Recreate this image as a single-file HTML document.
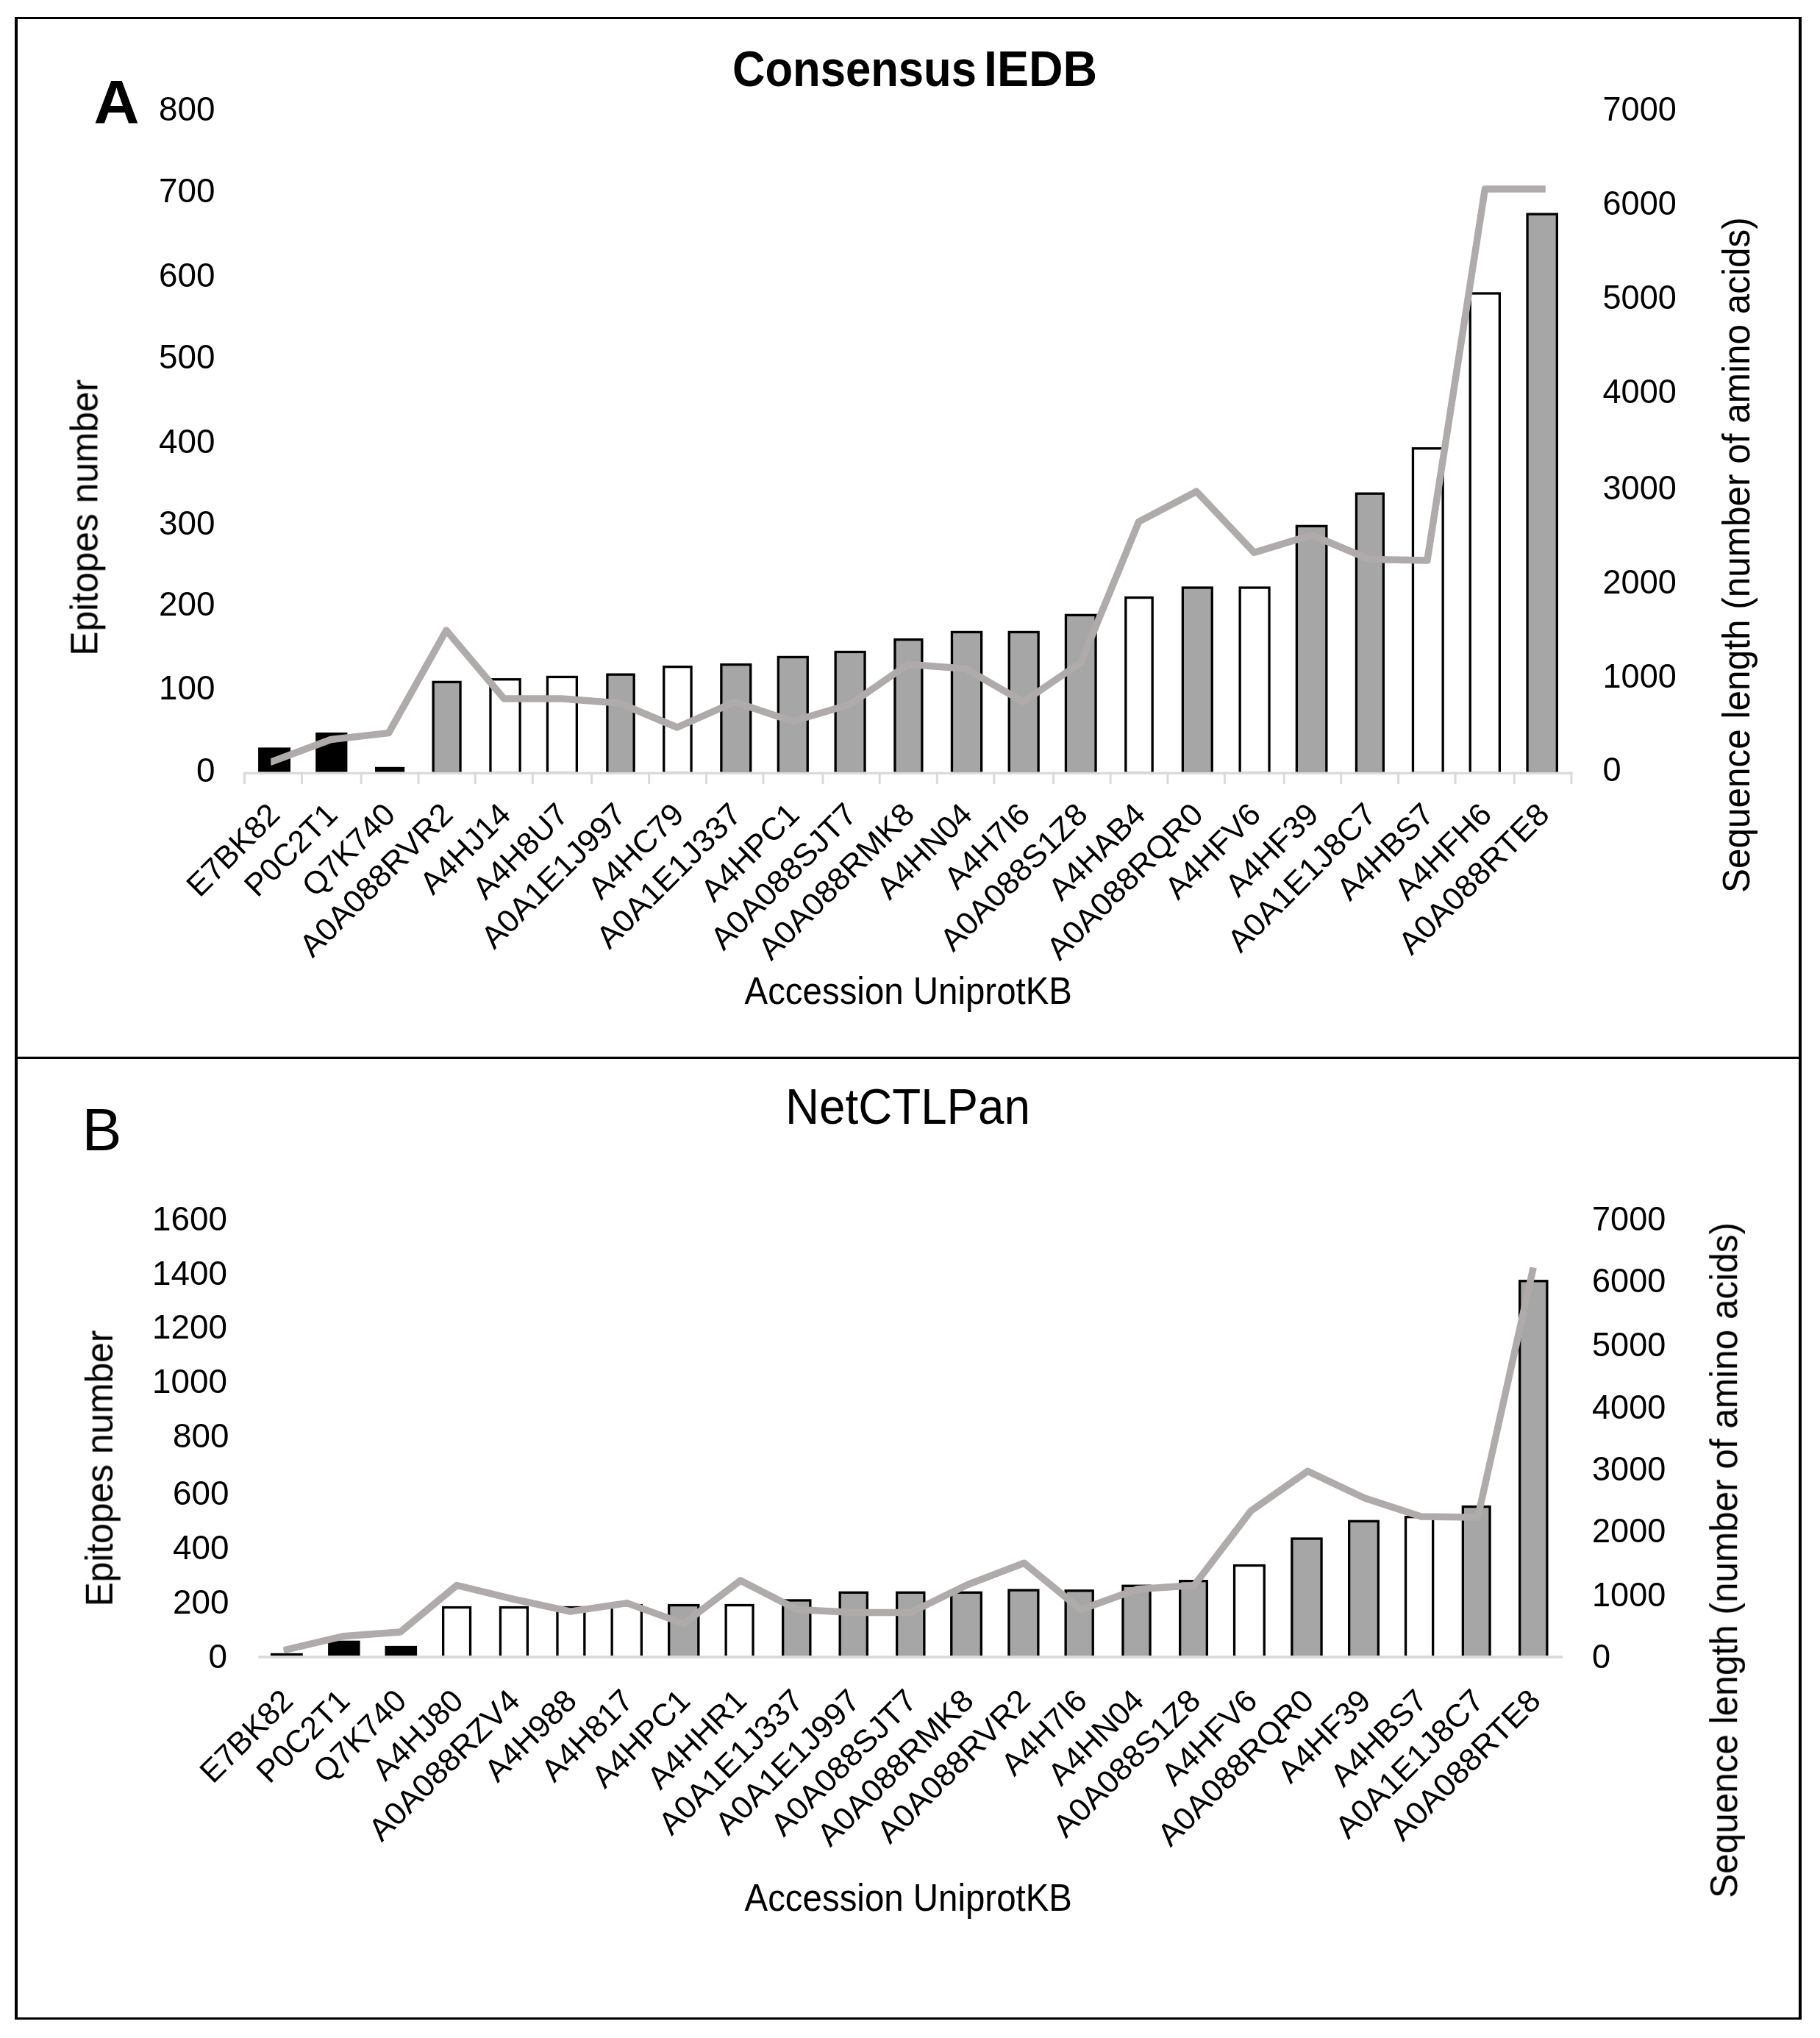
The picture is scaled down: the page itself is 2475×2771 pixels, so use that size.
<!DOCTYPE html>
<html lang="en"><head><meta charset="utf-8"><title>Epitope prediction charts</title>
<style>
html,body{margin:0;padding:0;background:#fff}
body{width:2475px;height:2771px;overflow:hidden}
svg{display:block}
text{font-family:"Liberation Sans",sans-serif;fill:#000}
</style></head><body>
<svg width="2475" height="2771" viewBox="0 0 2475 2771">
<defs><filter id="soft" filterUnits="userSpaceOnUse" x="0" y="0" width="2475" height="2771"><feGaussianBlur stdDeviation="0.7"/></filter></defs>
<rect width="2475" height="2771" fill="#fff"/>
<rect x="20.0" y="23.0" width="2430.0" height="3.0" fill="#000" />
<rect x="20.0" y="2743.0" width="2430.0" height="3.0" fill="#000" />
<rect x="20.0" y="23.0" width="4.0" height="2723.0" fill="#000" />
<rect x="2446.0" y="23.0" width="4.0" height="2723.0" fill="#000" />
<rect x="20.0" y="1436.7" width="2430.0" height="3.3" fill="#000" />
<g id="chartA" filter="url(#soft)">
<rect x="351.1" y="1016.4" width="43.9" height="33.3" fill="#000" />
<rect x="429.2" y="996.0" width="43.2" height="53.7" fill="#000" />
<rect x="510.0" y="1042.8" width="40.2" height="6.9" fill="#000" />
<rect x="587.5" y="925.7" width="40.2" height="124.0" fill="#000" />
<rect x="590.8" y="929.0" width="33.6" height="120.7" fill="#A6A6A6" />
<rect x="665.3" y="922.1" width="43.5" height="127.6" fill="#000" />
<rect x="668.6" y="925.4" width="36.9" height="124.3" fill="#fff" />
<rect x="742.8" y="918.8" width="43.2" height="130.9" fill="#000" />
<rect x="746.1" y="922.1" width="36.6" height="127.6" fill="#fff" />
<rect x="824.2" y="915.5" width="39.6" height="134.2" fill="#000" />
<rect x="827.5" y="918.8" width="33.0" height="130.9" fill="#A6A6A6" />
<rect x="901.1" y="905.0" width="40.6" height="144.7" fill="#000" />
<rect x="904.4" y="908.3" width="34.0" height="141.4" fill="#fff" />
<rect x="979.2" y="902.0" width="43.2" height="147.7" fill="#000" />
<rect x="982.5" y="905.3" width="36.6" height="144.4" fill="#A6A6A6" />
<rect x="1056.7" y="891.8" width="43.2" height="157.9" fill="#000" />
<rect x="1060.0" y="895.1" width="36.6" height="154.6" fill="#A6A6A6" />
<rect x="1134.5" y="884.8" width="43.2" height="164.9" fill="#000" />
<rect x="1137.8" y="888.1" width="36.6" height="161.6" fill="#A6A6A6" />
<rect x="1215.3" y="868.0" width="40.2" height="181.7" fill="#000" />
<rect x="1218.6" y="871.3" width="33.6" height="178.4" fill="#A6A6A6" />
<rect x="1292.8" y="857.8" width="43.5" height="191.9" fill="#000" />
<rect x="1296.1" y="861.1" width="36.9" height="188.6" fill="#A6A6A6" />
<rect x="1370.6" y="857.8" width="43.2" height="191.9" fill="#000" />
<rect x="1373.9" y="861.1" width="36.6" height="188.6" fill="#A6A6A6" />
<rect x="1447.8" y="834.7" width="43.9" height="215.0" fill="#000" />
<rect x="1451.1" y="838.0" width="37.3" height="211.7" fill="#A6A6A6" />
<rect x="1529.2" y="810.9" width="39.6" height="238.8" fill="#000" />
<rect x="1532.5" y="814.2" width="33.0" height="235.5" fill="#fff" />
<rect x="1606.7" y="797.4" width="43.2" height="252.3" fill="#000" />
<rect x="1610.0" y="800.7" width="36.6" height="249.0" fill="#A6A6A6" />
<rect x="1684.5" y="797.4" width="43.2" height="252.3" fill="#000" />
<rect x="1687.8" y="800.7" width="36.6" height="249.0" fill="#fff" />
<rect x="1761.7" y="713.7" width="43.8" height="336.0" fill="#000" />
<rect x="1765.0" y="717.0" width="37.2" height="332.7" fill="#A6A6A6" />
<rect x="1842.8" y="669.5" width="40.2" height="380.2" fill="#000" />
<rect x="1846.1" y="672.8" width="33.6" height="376.9" fill="#A6A6A6" />
<rect x="1919.8" y="608.1" width="44.0" height="441.6" fill="#000" />
<rect x="1923.1" y="611.4" width="37.4" height="438.3" fill="#fff" />
<rect x="1997.6" y="397.3" width="43.4" height="652.4" fill="#000" />
<rect x="2000.9" y="400.6" width="36.8" height="649.1" fill="#fff" />
<rect x="2075.4" y="289.5" width="43.6" height="760.2" fill="#000" />
<rect x="2078.7" y="292.8" width="37.0" height="756.9" fill="#A6A6A6" />
<rect x="331.5" y="1049.7" width="1807.0" height="3.2" fill="#D9D9D9" />
<rect x="331.0" y="1049.7" width="3.0" height="16.3" fill="#D9D9D9" />
<rect x="409.0" y="1049.7" width="3.0" height="16.3" fill="#D9D9D9" />
<rect x="489.7" y="1049.7" width="3.0" height="16.3" fill="#D9D9D9" />
<rect x="567.5" y="1049.7" width="3.0" height="16.3" fill="#D9D9D9" />
<rect x="644.7" y="1049.7" width="3.0" height="16.3" fill="#D9D9D9" />
<rect x="722.8" y="1049.7" width="3.0" height="16.3" fill="#D9D9D9" />
<rect x="803.0" y="1049.7" width="3.0" height="16.3" fill="#D9D9D9" />
<rect x="881.1" y="1049.7" width="3.0" height="16.3" fill="#D9D9D9" />
<rect x="959.0" y="1049.7" width="3.0" height="16.3" fill="#D9D9D9" />
<rect x="1036.4" y="1049.7" width="3.0" height="16.3" fill="#D9D9D9" />
<rect x="1117.5" y="1049.7" width="3.0" height="16.3" fill="#D9D9D9" />
<rect x="1194.7" y="1049.7" width="3.0" height="16.3" fill="#D9D9D9" />
<rect x="1272.8" y="1049.7" width="3.0" height="16.3" fill="#D9D9D9" />
<rect x="1350.3" y="1049.7" width="3.0" height="16.3" fill="#D9D9D9" />
<rect x="1431.1" y="1049.7" width="3.0" height="16.3" fill="#D9D9D9" />
<rect x="1508.6" y="1049.7" width="3.0" height="16.3" fill="#D9D9D9" />
<rect x="1586.4" y="1049.7" width="3.0" height="16.3" fill="#D9D9D9" />
<rect x="1663.9" y="1049.7" width="3.0" height="16.3" fill="#D9D9D9" />
<rect x="1744.7" y="1049.7" width="3.0" height="16.3" fill="#D9D9D9" />
<rect x="1822.2" y="1049.7" width="3.0" height="16.3" fill="#D9D9D9" />
<rect x="1900.1" y="1049.7" width="3.0" height="16.3" fill="#D9D9D9" />
<rect x="1977.5" y="1049.7" width="3.0" height="16.3" fill="#D9D9D9" />
<rect x="2057.8" y="1049.7" width="3.0" height="16.3" fill="#D9D9D9" />
<rect x="2135.4" y="1049.7" width="3.0" height="16.3" fill="#D9D9D9" />
<clipPath id="clipA"><rect x="368.2" y="200" width="1733.6" height="900"/></clipPath>
<polyline clip-path="url(#clipA)" points="371.5,1035.0 450.0,1005.5 528.5,996.6 606.9,857.0 685.4,950.0 763.9,950.0 842.4,956.0 920.8,989.0 999.3,954.4 1077.8,980.8 1156.2,957.7 1234.7,903.3 1313.2,909.2 1391.6,954.4 1470.1,900.6 1548.6,709.4 1627.1,668.2 1705.5,751.2 1784.0,727.5 1862.5,760.5 1940.9,762.1 2019.4,257.0 2097.9,257.0" fill="none" stroke="#AFABAB" stroke-width="9.5" stroke-linejoin="round" stroke-linecap="square"/>
<text x="292.5" y="163.7" font-size="47" text-anchor="end" textLength="76.4" lengthAdjust="spacingAndGlyphs" >800</text>
<text x="292.5" y="274.7" font-size="47" text-anchor="end" textLength="76.4" lengthAdjust="spacingAndGlyphs" >700</text>
<text x="292.5" y="389.5" font-size="47" text-anchor="end" textLength="76.4" lengthAdjust="spacingAndGlyphs" >600</text>
<text x="292.5" y="500.5" font-size="47" text-anchor="end" textLength="76.4" lengthAdjust="spacingAndGlyphs" >500</text>
<text x="292.5" y="615.7" font-size="47" text-anchor="end" textLength="76.4" lengthAdjust="spacingAndGlyphs" >400</text>
<text x="292.5" y="726.5" font-size="47" text-anchor="end" textLength="76.4" lengthAdjust="spacingAndGlyphs" >300</text>
<text x="292.5" y="837.2" font-size="47" text-anchor="end" textLength="76.4" lengthAdjust="spacingAndGlyphs" >200</text>
<text x="292.5" y="951.3" font-size="47" text-anchor="end" textLength="76.4" lengthAdjust="spacingAndGlyphs" >100</text>
<text x="292.5" y="1062.9" font-size="47" text-anchor="end" textLength="25.5" lengthAdjust="spacingAndGlyphs" >0</text>
<text x="2179.5" y="163.9" font-size="47" text-anchor="start" textLength="100.3" lengthAdjust="spacingAndGlyphs" >7000</text>
<text x="2179.5" y="292.1" font-size="47" text-anchor="start" textLength="100.3" lengthAdjust="spacingAndGlyphs" >6000</text>
<text x="2179.5" y="420.4" font-size="47" text-anchor="start" textLength="100.3" lengthAdjust="spacingAndGlyphs" >5000</text>
<text x="2179.5" y="548.2" font-size="47" text-anchor="start" textLength="100.3" lengthAdjust="spacingAndGlyphs" >4000</text>
<text x="2179.5" y="678.5" font-size="47" text-anchor="start" textLength="100.3" lengthAdjust="spacingAndGlyphs" >3000</text>
<text x="2179.5" y="806.7" font-size="47" text-anchor="start" textLength="100.3" lengthAdjust="spacingAndGlyphs" >2000</text>
<text x="2179.5" y="934.8" font-size="47" text-anchor="start" textLength="100.3" lengthAdjust="spacingAndGlyphs" >1000</text>
<text x="2179.5" y="1062.1" font-size="47" text-anchor="start" textLength="25.1" lengthAdjust="spacingAndGlyphs" >0</text>
<text x="383.0" y="1110.0" font-size="43" text-anchor="end" transform="rotate(-45 383.0 1110.0)" textLength="157.8" lengthAdjust="spacingAndGlyphs" >E7BK82</text>
<text x="461.5" y="1110.0" font-size="43" text-anchor="end" transform="rotate(-45 461.5 1110.0)" textLength="157.7" lengthAdjust="spacingAndGlyphs" >P0C2T1</text>
<text x="540.0" y="1110.0" font-size="43" text-anchor="end" transform="rotate(-45 540.0 1110.0)" textLength="157.8" lengthAdjust="spacingAndGlyphs" >Q7K740</text>
<text x="618.4" y="1110.0" font-size="43" text-anchor="end" transform="rotate(-45 618.4 1110.0)" textLength="273.6" lengthAdjust="spacingAndGlyphs" >A0A088RVR2</text>
<text x="696.9" y="1110.0" font-size="43" text-anchor="end" transform="rotate(-45 696.9 1110.0)" textLength="153.0" lengthAdjust="spacingAndGlyphs" >A4HJ14</text>
<text x="775.4" y="1110.0" font-size="43" text-anchor="end" transform="rotate(-45 775.4 1110.0)" textLength="162.5" lengthAdjust="spacingAndGlyphs" >A4H8U7</text>
<text x="853.9" y="1110.0" font-size="43" text-anchor="end" transform="rotate(-45 853.9 1110.0)" textLength="257.3" lengthAdjust="spacingAndGlyphs" >A0A1E1J997</text>
<text x="932.3" y="1110.0" font-size="43" text-anchor="end" transform="rotate(-45 932.3 1110.0)" textLength="162.5" lengthAdjust="spacingAndGlyphs" >A4HC79</text>
<text x="1010.8" y="1110.0" font-size="43" text-anchor="end" transform="rotate(-45 1010.8 1110.0)" textLength="257.3" lengthAdjust="spacingAndGlyphs" >A0A1E1J337</text>
<text x="1089.3" y="1110.0" font-size="43" text-anchor="end" transform="rotate(-45 1089.3 1110.0)" textLength="167.3" lengthAdjust="spacingAndGlyphs" >A4HPC1</text>
<text x="1167.7" y="1110.0" font-size="43" text-anchor="end" transform="rotate(-45 1167.7 1110.0)" textLength="259.7" lengthAdjust="spacingAndGlyphs" >A0A088SJT7</text>
<text x="1246.2" y="1110.0" font-size="43" text-anchor="end" transform="rotate(-45 1246.2 1110.0)" textLength="279.3" lengthAdjust="spacingAndGlyphs" >A0A088RMK8</text>
<text x="1324.7" y="1110.0" font-size="43" text-anchor="end" transform="rotate(-45 1324.7 1110.0)" textLength="162.5" lengthAdjust="spacingAndGlyphs" >A4HN04</text>
<text x="1403.1" y="1110.0" font-size="43" text-anchor="end" transform="rotate(-45 1403.1 1110.0)" textLength="143.4" lengthAdjust="spacingAndGlyphs" >A4H7I6</text>
<text x="1481.6" y="1110.0" font-size="43" text-anchor="end" transform="rotate(-45 1481.6 1110.0)" textLength="262.2" lengthAdjust="spacingAndGlyphs" >A0A088S1Z8</text>
<text x="1560.1" y="1110.0" font-size="43" text-anchor="end" transform="rotate(-45 1560.1 1110.0)" textLength="164.9" lengthAdjust="spacingAndGlyphs" >A4HAB4</text>
<text x="1638.6" y="1110.0" font-size="43" text-anchor="end" transform="rotate(-45 1638.6 1110.0)" textLength="279.3" lengthAdjust="spacingAndGlyphs" >A0A088RQR0</text>
<text x="1717.0" y="1110.0" font-size="43" text-anchor="end" transform="rotate(-45 1717.0 1110.0)" textLength="162.5" lengthAdjust="spacingAndGlyphs" >A4HFV6</text>
<text x="1795.5" y="1110.0" font-size="43" text-anchor="end" transform="rotate(-45 1795.5 1110.0)" textLength="157.7" lengthAdjust="spacingAndGlyphs" >A4HF39</text>
<text x="1874.0" y="1110.0" font-size="43" text-anchor="end" transform="rotate(-45 1874.0 1110.0)" textLength="264.6" lengthAdjust="spacingAndGlyphs" >A0A1E1J8C7</text>
<text x="1952.4" y="1110.0" font-size="43" text-anchor="end" transform="rotate(-45 1952.4 1110.0)" textLength="164.9" lengthAdjust="spacingAndGlyphs" >A4HBS7</text>
<text x="2030.9" y="1110.0" font-size="43" text-anchor="end" transform="rotate(-45 2030.9 1110.0)" textLength="164.9" lengthAdjust="spacingAndGlyphs" >A4HFH6</text>
<text x="2109.4" y="1110.0" font-size="43" text-anchor="end" transform="rotate(-45 2109.4 1110.0)" textLength="268.7" lengthAdjust="spacingAndGlyphs" >A0A088RTE8</text>
<text y="117.4" font-size="68" font-weight="bold"><tspan x="996" textLength="332" lengthAdjust="spacingAndGlyphs">Consensus</tspan> <tspan x="1338" textLength="154" lengthAdjust="spacingAndGlyphs">IEDB</tspan></text>
<text x="132.0" y="891.6" font-size="52" text-anchor="start" transform="rotate(-90 132.0 891.6)" textLength="375.8" lengthAdjust="spacingAndGlyphs" >Epitopes number</text>
<text x="2379.0" y="1214.0" font-size="52" text-anchor="start" transform="rotate(-90 2379.0 1214.0)" textLength="918.7" lengthAdjust="spacingAndGlyphs" >Sequence length (number of amino acids)</text>
<text x="1012.5" y="1365.0" font-size="52" text-anchor="start" textLength="445.5" lengthAdjust="spacingAndGlyphs" >Accession UniprotKB</text>
</g>
<g id="chartB" filter="url(#soft)">
<rect x="367.9" y="2247.8" width="43.9" height="3.4" fill="#000" />
<rect x="446.1" y="2230.7" width="43.5" height="20.5" fill="#000" />
<rect x="523.5" y="2237.9" width="43.6" height="13.3" fill="#000" />
<rect x="601.0" y="2183.9" width="40.2" height="67.3" fill="#000" />
<rect x="604.3" y="2187.2" width="33.6" height="64.0" fill="#fff" />
<rect x="678.8" y="2183.9" width="40.2" height="67.3" fill="#000" />
<rect x="682.1" y="2187.2" width="33.6" height="64.0" fill="#fff" />
<rect x="756.3" y="2183.9" width="40.2" height="67.3" fill="#000" />
<rect x="759.6" y="2187.2" width="33.6" height="64.0" fill="#fff" />
<rect x="830.5" y="2181.0" width="43.5" height="70.2" fill="#000" />
<rect x="833.8" y="2184.3" width="36.9" height="66.9" fill="#fff" />
<rect x="908.0" y="2180.9" width="43.5" height="70.3" fill="#000" />
<rect x="911.3" y="2184.2" width="36.9" height="67.0" fill="#A6A6A6" />
<rect x="985.5" y="2180.9" width="40.2" height="70.3" fill="#000" />
<rect x="988.8" y="2184.2" width="33.6" height="67.0" fill="#fff" />
<rect x="1063.0" y="2174.3" width="40.5" height="76.9" fill="#000" />
<rect x="1066.3" y="2177.6" width="33.9" height="73.6" fill="#A6A6A6" />
<rect x="1140.5" y="2163.7" width="40.5" height="87.5" fill="#000" />
<rect x="1143.8" y="2167.0" width="33.9" height="84.2" fill="#A6A6A6" />
<rect x="1218.0" y="2163.7" width="40.5" height="87.5" fill="#000" />
<rect x="1221.3" y="2167.0" width="33.9" height="84.2" fill="#A6A6A6" />
<rect x="1292.1" y="2163.7" width="43.9" height="87.5" fill="#000" />
<rect x="1295.4" y="2167.0" width="37.3" height="84.2" fill="#A6A6A6" />
<rect x="1370.3" y="2160.5" width="43.2" height="90.7" fill="#000" />
<rect x="1373.6" y="2163.8" width="36.6" height="87.4" fill="#A6A6A6" />
<rect x="1447.5" y="2161.2" width="40.4" height="90.0" fill="#000" />
<rect x="1450.8" y="2164.5" width="33.8" height="86.7" fill="#A6A6A6" />
<rect x="1525.3" y="2154.6" width="40.4" height="96.6" fill="#000" />
<rect x="1528.6" y="2157.9" width="33.8" height="93.3" fill="#A6A6A6" />
<rect x="1603.0" y="2148.0" width="40.0" height="103.2" fill="#000" />
<rect x="1606.3" y="2151.3" width="33.4" height="99.9" fill="#A6A6A6" />
<rect x="1676.9" y="2126.9" width="44.0" height="124.3" fill="#000" />
<rect x="1680.2" y="2130.2" width="37.4" height="121.0" fill="#fff" />
<rect x="1755.2" y="2090.4" width="43.5" height="160.8" fill="#000" />
<rect x="1758.5" y="2093.7" width="36.9" height="157.5" fill="#A6A6A6" />
<rect x="1833.0" y="2066.7" width="43.0" height="184.5" fill="#000" />
<rect x="1836.3" y="2070.0" width="36.4" height="181.2" fill="#A6A6A6" />
<rect x="1909.9" y="2061.0" width="40.4" height="190.2" fill="#000" />
<rect x="1913.2" y="2064.3" width="33.8" height="186.9" fill="#fff" />
<rect x="1987.7" y="2046.9" width="40.0" height="204.3" fill="#000" />
<rect x="1991.0" y="2050.2" width="33.4" height="201.0" fill="#A6A6A6" />
<rect x="2065.0" y="1740.1" width="40.5" height="511.1" fill="#000" />
<rect x="2068.3" y="1743.4" width="33.9" height="507.8" fill="#A6A6A6" />
<rect x="351.4" y="2251.2" width="1773.9" height="3.6" fill="#D9D9D9" />
<clipPath id="clipB"><rect x="385.3" y="1723" width="1720" height="560"/></clipPath>
<polyline clip-path="url(#clipB)" points="390.0,2242.9 467.1,2224.7 544.2,2219.1 621.3,2155.5 698.5,2174.3 775.6,2191.1 852.7,2179.6 929.8,2207.6 1007.0,2148.9 1084.1,2188.5 1161.2,2192.4 1238.3,2192.4 1315.5,2154.8 1392.6,2125.2 1469.7,2188.5 1546.9,2160.8 1624.0,2155.5 1701.1,2054.4 1778.2,2000.3 1855.4,2036.8 1932.5,2061.9 2009.6,2063.2 2084.2,1728.0" fill="none" stroke="#AFABAB" stroke-width="9.5" stroke-linejoin="round" stroke-linecap="square"/>
<text x="309.0" y="1672.7" font-size="47" text-anchor="end" textLength="101.9" lengthAdjust="spacingAndGlyphs" >1600</text>
<text x="309.0" y="1746.7" font-size="47" text-anchor="end" textLength="101.9" lengthAdjust="spacingAndGlyphs" >1400</text>
<text x="309.0" y="1820.4" font-size="47" text-anchor="end" textLength="101.9" lengthAdjust="spacingAndGlyphs" >1200</text>
<text x="309.0" y="1894.4" font-size="47" text-anchor="end" textLength="101.9" lengthAdjust="spacingAndGlyphs" >1000</text>
<text x="311.5" y="1968.2" font-size="47" text-anchor="end" textLength="76.4" lengthAdjust="spacingAndGlyphs" >800</text>
<text x="311.5" y="2045.5" font-size="47" text-anchor="end" textLength="76.4" lengthAdjust="spacingAndGlyphs" >600</text>
<text x="311.5" y="2119.7" font-size="47" text-anchor="end" textLength="76.4" lengthAdjust="spacingAndGlyphs" >400</text>
<text x="311.5" y="2193.9" font-size="47" text-anchor="end" textLength="76.4" lengthAdjust="spacingAndGlyphs" >200</text>
<text x="309.0" y="2267.9" font-size="47" text-anchor="end" textLength="25.5" lengthAdjust="spacingAndGlyphs" >0</text>
<text x="2165.0" y="1673.2" font-size="47" text-anchor="start" textLength="100.3" lengthAdjust="spacingAndGlyphs" >7000</text>
<text x="2165.0" y="1757.4" font-size="47" text-anchor="start" textLength="100.3" lengthAdjust="spacingAndGlyphs" >6000</text>
<text x="2165.0" y="1843.7" font-size="47" text-anchor="start" textLength="100.3" lengthAdjust="spacingAndGlyphs" >5000</text>
<text x="2165.0" y="1929.0" font-size="47" text-anchor="start" textLength="100.3" lengthAdjust="spacingAndGlyphs" >4000</text>
<text x="2165.0" y="2013.2" font-size="47" text-anchor="start" textLength="100.3" lengthAdjust="spacingAndGlyphs" >3000</text>
<text x="2165.0" y="2097.4" font-size="47" text-anchor="start" textLength="100.3" lengthAdjust="spacingAndGlyphs" >2000</text>
<text x="2165.0" y="2183.8" font-size="47" text-anchor="start" textLength="100.3" lengthAdjust="spacingAndGlyphs" >1000</text>
<text x="2165.0" y="2267.7" font-size="47" text-anchor="start" textLength="25.1" lengthAdjust="spacingAndGlyphs" >0</text>
<text x="401.0" y="2315.0" font-size="43" text-anchor="end" transform="rotate(-45 401.0 2315.0)" textLength="157.8" lengthAdjust="spacingAndGlyphs" >E7BK82</text>
<text x="478.1" y="2315.0" font-size="43" text-anchor="end" transform="rotate(-45 478.1 2315.0)" textLength="157.7" lengthAdjust="spacingAndGlyphs" >P0C2T1</text>
<text x="555.2" y="2315.0" font-size="43" text-anchor="end" transform="rotate(-45 555.2 2315.0)" textLength="157.8" lengthAdjust="spacingAndGlyphs" >Q7K740</text>
<text x="632.3" y="2315.0" font-size="43" text-anchor="end" transform="rotate(-45 632.3 2315.0)" textLength="153.0" lengthAdjust="spacingAndGlyphs" >A4HJ80</text>
<text x="709.5" y="2315.0" font-size="43" text-anchor="end" transform="rotate(-45 709.5 2315.0)" textLength="269.5" lengthAdjust="spacingAndGlyphs" >A0A088RZV4</text>
<text x="786.6" y="2315.0" font-size="43" text-anchor="end" transform="rotate(-45 786.6 2315.0)" textLength="155.4" lengthAdjust="spacingAndGlyphs" >A4H988</text>
<text x="863.7" y="2315.0" font-size="43" text-anchor="end" transform="rotate(-45 863.7 2315.0)" textLength="155.4" lengthAdjust="spacingAndGlyphs" >A4H817</text>
<text x="940.8" y="2315.0" font-size="43" text-anchor="end" transform="rotate(-45 940.8 2315.0)" textLength="167.3" lengthAdjust="spacingAndGlyphs" >A4HPC1</text>
<text x="1018.0" y="2315.0" font-size="43" text-anchor="end" transform="rotate(-45 1018.0 2315.0)" textLength="169.7" lengthAdjust="spacingAndGlyphs" >A4HHR1</text>
<text x="1095.1" y="2315.0" font-size="43" text-anchor="end" transform="rotate(-45 1095.1 2315.0)" textLength="257.3" lengthAdjust="spacingAndGlyphs" >A0A1E1J337</text>
<text x="1172.2" y="2315.0" font-size="43" text-anchor="end" transform="rotate(-45 1172.2 2315.0)" textLength="257.3" lengthAdjust="spacingAndGlyphs" >A0A1E1J997</text>
<text x="1249.3" y="2315.0" font-size="43" text-anchor="end" transform="rotate(-45 1249.3 2315.0)" textLength="259.7" lengthAdjust="spacingAndGlyphs" >A0A088SJT7</text>
<text x="1326.5" y="2315.0" font-size="43" text-anchor="end" transform="rotate(-45 1326.5 2315.0)" textLength="279.3" lengthAdjust="spacingAndGlyphs" >A0A088RMK8</text>
<text x="1403.6" y="2315.0" font-size="43" text-anchor="end" transform="rotate(-45 1403.6 2315.0)" textLength="273.6" lengthAdjust="spacingAndGlyphs" >A0A088RVR2</text>
<text x="1480.7" y="2315.0" font-size="43" text-anchor="end" transform="rotate(-45 1480.7 2315.0)" textLength="143.4" lengthAdjust="spacingAndGlyphs" >A4H7I6</text>
<text x="1557.9" y="2315.0" font-size="43" text-anchor="end" transform="rotate(-45 1557.9 2315.0)" textLength="162.5" lengthAdjust="spacingAndGlyphs" >A4HN04</text>
<text x="1635.0" y="2315.0" font-size="43" text-anchor="end" transform="rotate(-45 1635.0 2315.0)" textLength="262.2" lengthAdjust="spacingAndGlyphs" >A0A088S1Z8</text>
<text x="1712.1" y="2315.0" font-size="43" text-anchor="end" transform="rotate(-45 1712.1 2315.0)" textLength="162.5" lengthAdjust="spacingAndGlyphs" >A4HFV6</text>
<text x="1789.2" y="2315.0" font-size="43" text-anchor="end" transform="rotate(-45 1789.2 2315.0)" textLength="279.3" lengthAdjust="spacingAndGlyphs" >A0A088RQR0</text>
<text x="1866.4" y="2315.0" font-size="43" text-anchor="end" transform="rotate(-45 1866.4 2315.0)" textLength="157.7" lengthAdjust="spacingAndGlyphs" >A4HF39</text>
<text x="1943.5" y="2315.0" font-size="43" text-anchor="end" transform="rotate(-45 1943.5 2315.0)" textLength="164.9" lengthAdjust="spacingAndGlyphs" >A4HBS7</text>
<text x="2020.6" y="2315.0" font-size="43" text-anchor="end" transform="rotate(-45 2020.6 2315.0)" textLength="264.6" lengthAdjust="spacingAndGlyphs" >A0A1E1J8C7</text>
<text x="2097.7" y="2315.0" font-size="43" text-anchor="end" transform="rotate(-45 2097.7 2315.0)" textLength="268.7" lengthAdjust="spacingAndGlyphs" >A0A088RTE8</text>
<text x="1068.0" y="1527.9" font-size="68" text-anchor="start" textLength="333.0" lengthAdjust="spacingAndGlyphs" >NetCTLPan</text>
<text x="153.2" y="2184.4" font-size="52" text-anchor="start" transform="rotate(-90 153.2 2184.4)" textLength="375.8" lengthAdjust="spacingAndGlyphs" >Epitopes number</text>
<text x="2362.0" y="2580.8" font-size="52" text-anchor="start" transform="rotate(-90 2362.0 2580.8)" textLength="918.7" lengthAdjust="spacingAndGlyphs" >Sequence length (number of amino acids)</text>
<text x="1012.5" y="2597.5" font-size="52" text-anchor="start" textLength="445.5" lengthAdjust="spacingAndGlyphs" >Accession UniprotKB</text>
</g>
<text x="127.5" y="167.5" font-size="83" text-anchor="start" font-weight="bold" textLength="62.0" lengthAdjust="spacingAndGlyphs" >A</text>
<text x="111.5" y="1563.8" font-size="81" text-anchor="start" textLength="54.0" lengthAdjust="spacingAndGlyphs" >B</text>
</svg>
</body></html>
